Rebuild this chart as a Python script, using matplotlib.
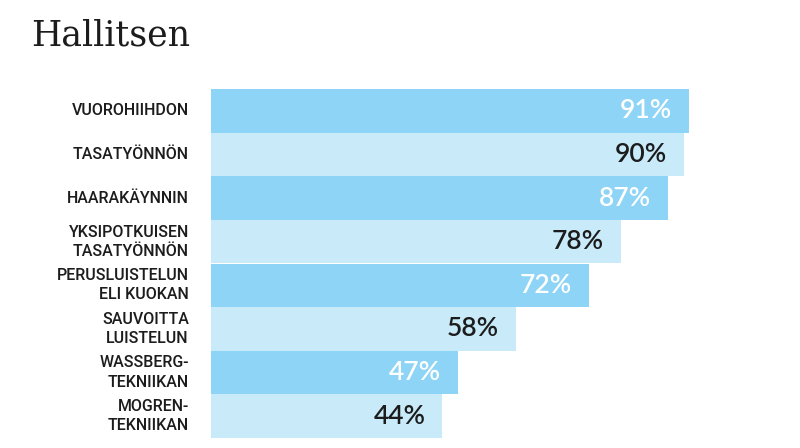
import matplotlib
matplotlib.use("Agg")
import matplotlib.pyplot as plt

# data
categories = [
    "VUOROHIIHDON",
    "TASATYÖNNÖN",
    "HAARAKÄYNNIN",
    "YKSIPOTKUISEN\nTASATYÖNNÖN",
    "PERUSLUISTELUN\nELI KUOKAN",
    "SAUVOITTA\nLUISTELUN",
    "WASSBERG-\nTEKNIIKAN",
    "MOGREN-\nTEKNIIKAN",
]
values = [91, 90, 87, 78, 72, 58, 47, 44]

DARK = "#8dd4f6"
LIGHT = "#c8eaf9"
TEXT = "#1c1c1c"

W, H = 800, 448
fig = plt.figure(figsize=(W / 100, H / 100), dpi=100)
ax = fig.add_axes([211 / W, 1 - 438 / H, (736 - 211) / W, (438 - 89) / H])

ypos = list(range(len(values)))
colors = [DARK if i % 2 == 0 else LIGHT for i in ypos]
ax.barh(ypos, values, height=1.0, color=colors, left=0)

ax.set_xlim(0, 100)
ax.set_ylim(len(values) - 0.5, -0.5)
ax.axis("off")

for i, v in enumerate(values):
    col = "white" if i % 2 == 0 else TEXT
    ax.annotate(f"{v}%", (v, i), xytext=(-12, 0), textcoords="offset points",
                ha="right", va="center", fontsize=19, color=col,
                family="Lato", fontweight="semibold")
    ax.annotate(categories[i], (0, i), xytext=(-16, 0), textcoords="offset points",
                ha="right", va="center", fontsize=11.5, color=TEXT,
                family="Roboto", fontweight="medium", linespacing=1.35,
                multialignment="right")

fig.text(31 / W, 1 - 45 / H, "Hallitsen", fontsize=25, color=TEXT,
         family="DejaVu Serif", ha="left", va="baseline")

fig.savefig("out.png", dpi=100)
